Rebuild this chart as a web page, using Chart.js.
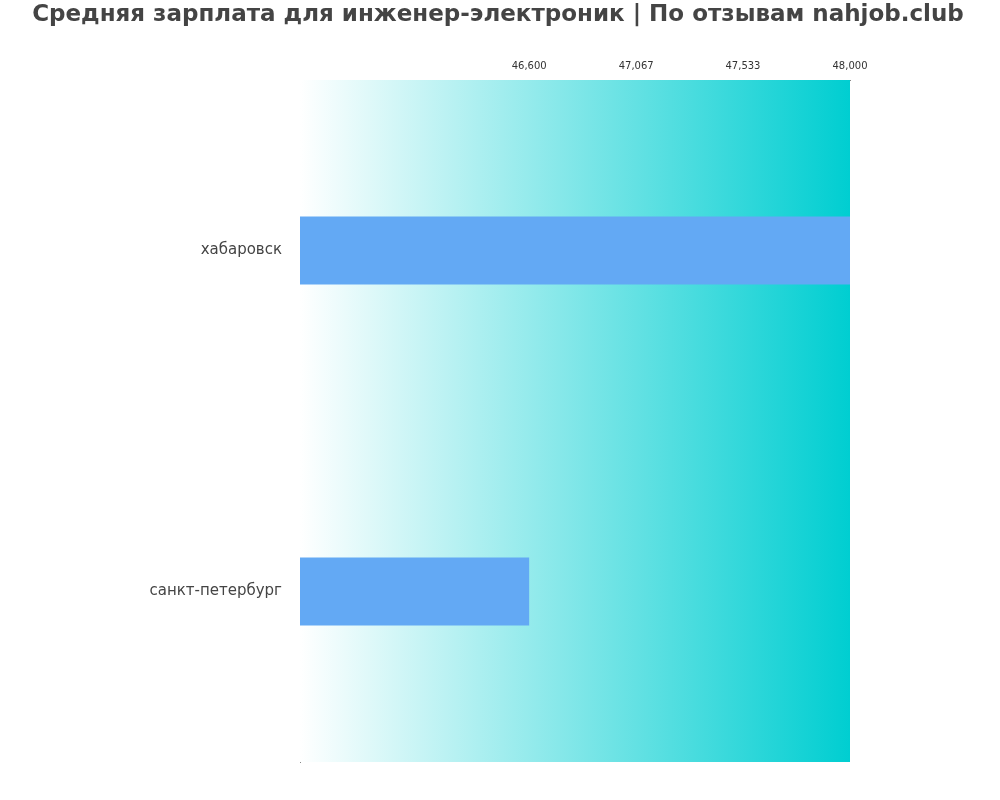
<!DOCTYPE html>
<html>
<head>
<meta charset="utf-8">
<script src="https://cdn.jsdelivr.net/npm/chart.js@4"></script>
<style>body{margin:0;background:#fff}</style>
</head>
<body>
<canvas id="c" width="1000" height="800"></canvas>
<script>
const cities = ['хабаровск', 'санкт-петербург'];
const salaries = [48000, 46600];
const tickValues = [46600, 47067, 47533, 48000];
const titleText = 'Средняя зарплата для инженер-электроник | По отзывам nahjob.club';

// фон области графика: градиент от белого к бирюзовому
const gradientBg = {
    id: 'gradientBg',
    beforeDatasetsDraw(chart) {
        const { ctx, chartArea: a } = chart;
        const g = ctx.createLinearGradient(a.left, 0, a.right, 0);
        g.addColorStop(0, '#ffffff');
        g.addColorStop(1, '#00ced1');
        ctx.save();
        ctx.fillStyle = g;
        ctx.fillRect(a.left, a.top, a.right - a.left, a.bottom - a.top);
        ctx.restore();
    }
};

const titlePlugin = {
    id: 'titleText',
    afterDraw(chart) {
        const ctx = chart.ctx;
        ctx.save();
        ctx.font = "bold 23px 'DejaVu Sans'";
        ctx.fillStyle = '#444444';
        ctx.textAlign = 'center';
        ctx.textBaseline = 'middle';
        ctx.fillText(titleText, 498, 15);
        ctx.restore();
    }
};

new Chart(document.getElementById('c'), {
    type: 'bar',
    data: {
        labels: cities,
        datasets: [{
            data: salaries,
            backgroundColor: '#63a9f4',
            barPercentage: 0.2,
            categoryPercentage: 1
        }]
    },
    plugins: [gradientBg, titlePlugin],
    options: {
        indexAxis: 'y',
        responsive: false,
        animation: false,
        layout: { padding: { top: 50, right: 150, bottom: 38, left: 0 } },
        plugins: { legend: { display: false }, tooltip: { enabled: false } },
        scales: {
            x: {
                position: 'top',
                min: 45600,
                max: 48000,
                afterBuildTicks: s => { s.ticks = tickValues.map(v => ({ value: v })); },
                afterFit: s => { s.height = 30; },
                grid: { display: false, drawTicks: true, tickLength: 5 },
                border: { display: true, color: '#888' },
                ticks: { color: '#333', font: { family: 'DejaVu Sans', size: 10 }, maxRotation: 0, autoSkip: false }
            },
            y: {
                afterFit: s => { s.width = 300; },
                grid: { display: false },
                border: { display: true, color: '#888' },
                ticks: { color: '#444', font: { family: 'DejaVu Sans', size: 15 }, padding: 10 }
            }
        }
    }
});
</script>
</body>
</html>
